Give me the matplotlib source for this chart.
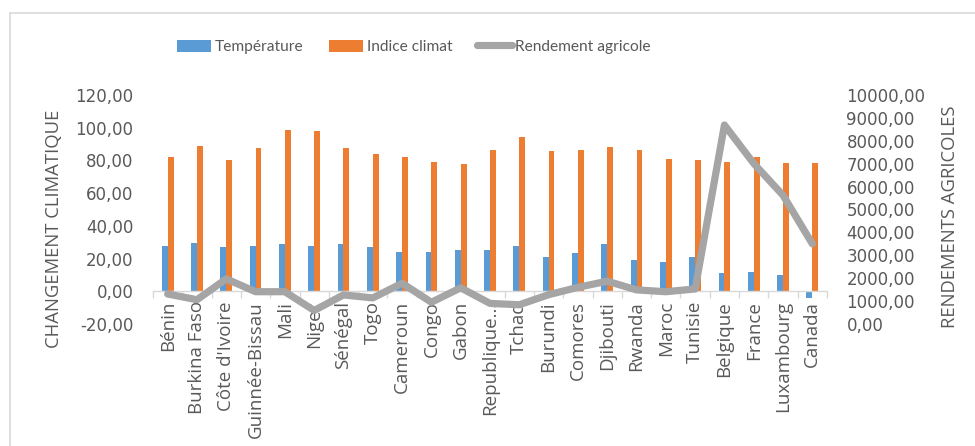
import matplotlib
matplotlib.use("Agg")
import matplotlib.pyplot as plt
import numpy as np
from matplotlib.lines import Line2D

pays = ["Bénin", "Burkina Faso", "Côte d'Ivoire", "Guinnée-Bissau", "Mali", "Niger",
        "Sénégal", "Togo", "Cameroun", "Congo", "Gabon", "Republique…", "Tchad",
        "Burundi", "Comores", "Djibouti", "Rwanda", "Maroc", "Tunisie", "Belgique",
        "France", "Luxambourg", "Canada"]

temperature = [27.9, 29.5, 27.1, 27.9, 28.7, 27.9, 28.7, 27.1, 24.2, 24.2, 25.2,
               25.2, 27.9, 20.7, 23.4, 28.7, 18.9, 18.1, 20.7, 10.9, 11.8, 10.1, -3.8]
indice_climat = [82.0, 89.1, 80.3, 87.3, 98.9, 97.9, 87.3, 83.8, 82.0, 79.3, 77.7,
                 86.5, 94.4, 85.6, 86.5, 88.1, 86.5, 81.1, 80.3, 79.3, 82.0, 78.5, 78.5]
rendement = [1310, 1060, 1970, 1410, 1410, 590, 1270, 1140, 1780, 950, 1580,
             900, 840, 1280, 1600, 1870, 1490, 1410, 1530, 8690, 7010, 5620, 3500]

gauche_ticks = [-20, 0, 20, 40, 60, 80, 100, 120]
droite_ticks = [0, 1000, 2000, 3000, 4000, 5000, 6000, 7000, 8000, 9000, 10000]

BLEU = "#5b9bd5"
ORANGE = "#ed7d31"
GRIS = "#a5a5a5"
TEXTE = "#595959"
AXE = "#d9d9d9"

plt.rcParams["font.family"] = ["Open Sans", "DejaVu Sans"]
NUM_FONT = {"family": ["DejaVu Sans"], "size": 12}

fig = plt.figure(figsize=(9.75, 4.46), dpi=100)
fig.patch.set_facecolor("white")

# chart frame (top and left edges)
fig.add_artist(Line2D([10 / 975, 10 / 975], [0, 1 - 13 / 446], color=AXE, lw=1.2,
                      transform=fig.transFigure))
fig.add_artist(Line2D([10 / 975, 1], [1 - 13 / 446, 1 - 13 / 446], color=AXE, lw=1.2,
                      transform=fig.transFigure))

ax = fig.add_axes([153 / 975, 1 - 324 / 446, 674 / 975, 229 / 446])
x = np.arange(len(pays))
w = 0.2
ax.bar(x - w / 2, temperature, width=w, color=BLEU, label="Température", zorder=2)
ax.bar(x + w / 2, indice_climat, width=w, color=ORANGE, label="Indice climat", zorder=2)

ax.set_xlim(-0.5, len(pays) - 0.5)
ax.set_ylim(-20, 120)
ax.set_yticks(gauche_ticks)
ax.set_yticklabels([f"{v:.2f}".replace(".", ",") for v in gauche_ticks], fontdict=NUM_FONT)
ax.tick_params(axis="y", length=0, pad=14, colors=TEXTE)

for s in ["top", "right", "left"]:
    ax.spines[s].set_visible(False)
ax.spines["bottom"].set_position(("data", 0))
ax.spines["bottom"].set_color(AXE)
ax.spines["bottom"].set_linewidth(1.0)

ax.set_xticks(x)
ax.set_xticklabels(pays, rotation=90, ha="center", va="top")
ax.tick_params(axis="x", length=0, pad=7, labelsize=13.5, colors=TEXTE)
ax.set_xticks(np.arange(-0.5, len(pays)), minor=True)
ax.tick_params(axis="x", which="minor", length=5, width=1.0, color=AXE, direction="out")

ax.set_ylabel("CHANGEMENT CLIMATIQUE", fontsize=13.3, color=TEXTE, va="center")
ax.yaxis.set_label_coords((54 - 153) / 674, (324 - 229) / 229)

ax2 = ax.twinx()
ax2.plot(x, rendement, color=GRIS, lw=5.2, solid_joinstyle="round",
         solid_capstyle="round", label="Rendement agricole", zorder=3)
ax2.set_ylim(0, 10000)
ax2.set_yticks(droite_ticks)
ax2.set_yticklabels([f"{v:.2f}".replace(".", ",") for v in droite_ticks], fontdict=NUM_FONT)
ax2.tick_params(axis="y", length=0, pad=14, colors=TEXTE)
for s in ["top", "right", "left", "bottom"]:
    ax2.spines[s].set_visible(False)
ax2.set_ylabel("RENDEMENTS AGRICOLES", fontsize=13.3, color=TEXTE, rotation=90, va="center")
ax2.yaxis.set_label_coords((950 - 153) / 674, (324 - 217) / 229)

h1, l1 = ax.get_legend_handles_labels()
h2, l2 = ax2.get_legend_handles_labels()
leg = fig.legend(h1 + h2, l1 + l2, loc="center", ncol=3,
                 bbox_to_anchor=(414 / 975, 1 - 47 / 446), frameon=False,
                 handlelength=2.2, handleheight=0.8, handletextpad=0.25,
                 columnspacing=1.6, prop={"family": ["Lato"], "size": 11.2})
for t in leg.get_texts():
    t.set_color(TEXTE)

fig.savefig("out.png", dpi=100, facecolor="white")
